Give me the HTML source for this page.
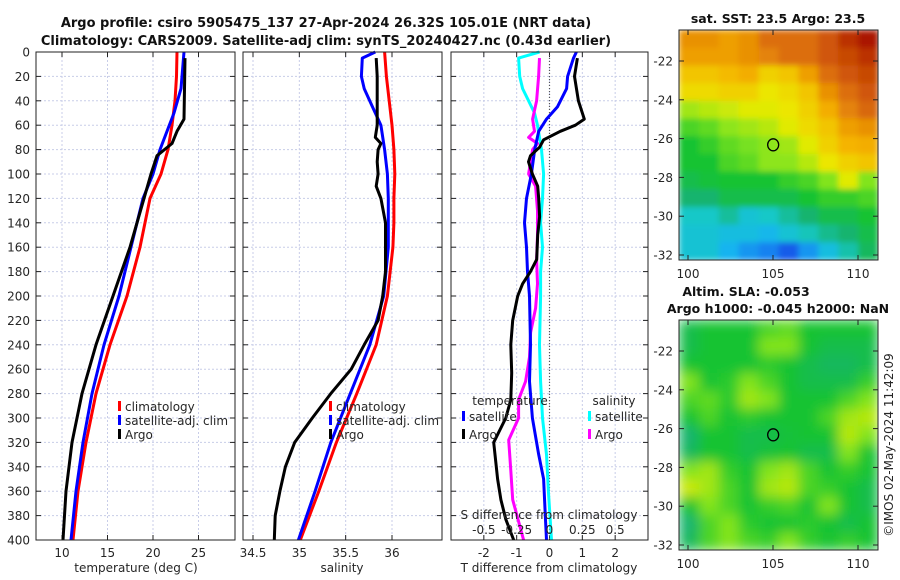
<!DOCTYPE html>
<html><head><meta charset="utf-8"><style>
html,body{margin:0;padding:0;background:#fff}
svg{display:block;font-family:"DejaVu Sans","Liberation Sans",sans-serif}
</style></head><body>
<svg id="fig" width="900" height="580" viewBox="0 0 900 580">
<rect width="900" height="580" fill="#fff"/>
<text x="326" y="27" text-anchor="middle" font-size="13" font-weight="bold" fill="#111">Argo profile: csiro 5905475_137 27-Apr-2024 26.32S 105.01E (NRT data)</text>
<text x="326" y="45" text-anchor="middle" font-size="13" font-weight="bold" fill="#111">Climatology: CARS2009. Satellite-adj clim: synTS_20240427.nc (0.43d earlier)</text>
<text x="778" y="23" text-anchor="middle" font-size="12.5" font-weight="bold" fill="#111">sat. SST: 23.5 Argo: 23.5</text>
<text x="746" y="296" text-anchor="middle" font-size="12.5" font-weight="bold" fill="#111">Altim. SLA: -0.053</text>
<text x="778" y="313" text-anchor="middle" font-size="12.5" font-weight="bold" fill="#111">Argo h1000: -0.045 h2000: NaN</text>
<text transform="translate(893,445) rotate(-90)" text-anchor="middle" font-size="12" fill="#262626">©IMOS 02-May-2024 11:42:09</text>
<defs>
<filter id="blr" x="-5%" y="-5%" width="110%" height="110%"><feGaussianBlur stdDeviation="6" edgeMode="duplicate"/></filter>
<filter id="blr2" x="0" y="0" width="100%" height="100%"><feGaussianBlur stdDeviation="3" edgeMode="duplicate"/></filter>
<clipPath id="c1"><rect x="679" y="30" width="199" height="230"/></clipPath>
<clipPath id="c2"><rect x="679" y="320" width="199" height="230"/></clipPath>
</defs>
<g id="layer"></g>
</svg>
<script>
// ---------- data ----------
const depthTicks = [0,20,40,60,80,100,120,140,160,180,200,220,240,260,280,300,320,340,360,380,400];
const tempTicks = [10,15,20,25];
const salTicks = [34.5,35,35.5,36];
const tdiffTicks = [-2,-1,0,1,2];
const sdiffTicks = [-0.5,-0.25,0,0.25,0.5];
const latTicks = [-22,-24,-26,-28,-30,-32];
const lonTicks = [100,105,110];

const climTDepth = [0,20,40,60,80,100,120,160,200,240,280,320,360,400];
const climTValues = [22.64,22.58,22.42,22.09,21.65,20.88,19.67,18.57,17.14,15.27,13.74,12.64,11.76,11.21];
const satTDepth = [0,10,30,50,80,100,120,160,200,240,280,320,360,400];
const satTValues = [23.41,23.30,23.08,22.31,20.77,20.0,18.9,17.58,16.26,14.62,13.30,12.31,11.54,10.99];
const argoTDepth = [5,55,65,75,85,100,120,160,200,240,280,320,360,400];
const argoTValues = [23.52,23.41,22.64,22.09,20.44,19.78,19.01,17.47,15.60,13.74,12.20,11.10,10.44,10.11];

const climSDepth = [0,20,40,60,80,100,120,140,160,200,240,280,320,360,400];
const climSValues = [35.92,35.94,35.97,36.0,36.02,36.03,36.02,36.02,36.01,35.95,35.83,35.62,35.40,35.21,35.01];
const satSDepth = [0,5,20,30,45,60,80,100,120,160,200,240,280,320,360,400];
const satSValues = [35.82,35.68,35.67,35.70,35.79,35.88,35.92,35.95,35.96,35.96,35.91,35.76,35.55,35.34,35.17,34.99];
const argoSDepth = [5,20,40,60,70,75,80,90,100,110,120,140,160,180,200,220,240,260,280,300,320,340,360,380,400];
const argoSValues = [35.83,35.84,35.84,35.84,35.82,35.88,35.85,35.84,35.85,35.83,35.88,35.93,35.93,35.93,35.90,35.85,35.70,35.56,35.34,35.14,34.95,34.85,34.79,34.74,34.73];

const dSatTDepth = [0,5,20,30,45,55,65,80,100,120,140,160,180,200,240,270,300,330,350,385,400];
const dSatTValues = [0.82,0.73,0.55,0.52,0.24,-0.09,-0.33,-0.45,-0.55,-0.70,-0.76,-0.70,-0.67,-0.61,-0.58,-0.61,-0.52,-0.33,-0.18,-0.12,-0.09];
const dArgoTDepth = [5,20,40,55,60,65,72,78,85,90,100,110,120,135,150,170,180,190,200,220,240,263,285,300,320,350,367,383,400];
const dArgoTValues = [0.85,0.76,0.88,1.06,0.79,0.33,-0.18,-0.30,-0.58,-0.64,-0.52,-0.36,-0.33,-0.30,-0.36,-0.39,-0.58,-0.82,-0.97,-1.12,-1.18,-1.15,-1.18,-1.33,-1.70,-1.58,-1.48,-1.33,-1.09];
const dSatSDepth = [0,5,20,30,40,50,60,80,100,120,140,160,180,200,240,270,300,330,360,400];
const dSatSValues = [-0.076,-0.235,-0.227,-0.205,-0.159,-0.114,-0.091,-0.061,-0.045,-0.053,-0.068,-0.053,-0.068,-0.068,-0.076,-0.068,-0.053,-0.023,-0.008,0.015];
const dArgoSDepth = [5,20,40,55,65,70,75,80,90,100,110,130,150,170,190,210,230,250,270,285,300,318,343,367,400];
const dArgoSValues = [-0.076,-0.083,-0.098,-0.129,-0.114,-0.159,-0.091,-0.129,-0.144,-0.159,-0.106,-0.091,-0.091,-0.098,-0.091,-0.106,-0.144,-0.152,-0.182,-0.235,-0.235,-0.311,-0.295,-0.280,-0.197];

const sstGrid = [
[0.80,0.80,0.78,0.80,0.85,0.85,0.85,0.88,0.93,0.97],
[0.78,0.78,0.78,0.80,0.82,0.85,0.85,0.88,0.90,0.93],
[0.72,0.72,0.74,0.76,0.70,0.72,0.78,0.85,0.88,0.90],
[0.68,0.68,0.70,0.70,0.66,0.68,0.72,0.80,0.85,0.88],
[0.58,0.60,0.62,0.64,0.64,0.66,0.70,0.76,0.82,0.86],
[0.50,0.52,0.56,0.58,0.60,0.64,0.68,0.72,0.78,0.80],
[0.45,0.48,0.52,0.54,0.56,0.58,0.64,0.70,0.75,0.76],
[0.45,0.45,0.50,0.52,0.56,0.56,0.60,0.66,0.70,0.72],
[0.42,0.44,0.45,0.45,0.45,0.48,0.50,0.55,0.64,0.55],
[0.38,0.38,0.42,0.42,0.42,0.42,0.45,0.48,0.48,0.50],
[0.32,0.32,0.35,0.30,0.32,0.35,0.38,0.42,0.42,0.45],
[0.30,0.30,0.28,0.28,0.26,0.30,0.33,0.36,0.38,0.42],
[0.30,0.30,0.25,0.22,0.20,0.15,0.22,0.28,0.34,0.40]];
const slaGrid = [
[0.42,0.45,0.45,0.45,0.50,0.52,0.45,0.45,0.45,0.45],
[0.42,0.45,0.45,0.45,0.55,0.55,0.45,0.42,0.42,0.42],
[0.45,0.45,0.45,0.45,0.47,0.45,0.42,0.40,0.40,0.42],
[0.55,0.45,0.47,0.55,0.50,0.45,0.42,0.42,0.42,0.48],
[0.50,0.52,0.47,0.58,0.55,0.45,0.45,0.45,0.50,0.55],
[0.45,0.50,0.45,0.47,0.45,0.45,0.45,0.50,0.58,0.60],
[0.38,0.45,0.45,0.42,0.42,0.44,0.45,0.45,0.60,0.55],
[0.40,0.45,0.45,0.42,0.44,0.45,0.42,0.42,0.55,0.45],
[0.55,0.58,0.48,0.45,0.55,0.58,0.50,0.45,0.48,0.45],
[0.62,0.58,0.50,0.45,0.58,0.60,0.50,0.48,0.45,0.42],
[0.45,0.55,0.50,0.45,0.48,0.50,0.45,0.55,0.45,0.42],
[0.38,0.50,0.55,0.47,0.45,0.45,0.47,0.45,0.42,0.45],
[0.40,0.50,0.55,0.50,0.48,0.55,0.48,0.45,0.48,0.45]];
const argoLon = 105.01, argoLat = -26.32;

// ---------- helpers ----------
const NS="http://www.w3.org/2000/svg";
const root=document.getElementById('layer');
function mk(tag,attrs,parent){const e=document.createElementNS(NS,tag);for(const k in attrs)e.setAttribute(k,attrs[k]);(parent||root).appendChild(e);return e;}
const TOP=52, BOT=540;
const yD = d => TOP + d*(BOT-TOP)/400;
function scale(d0,d1,r0,r1){return v=>r0+(v-d0)*(r1-r0)/(d1-d0);}
const xT = scale(10,25,62,198.5);
const xS = scale(34.5,36,253,392);
const xTd = scale(-3,3,451,648);
const xSd = scale(-0.75,0.75,451,648);
const FS=12;

function panel(x0,x1,xf,ticks,fmt,showY,name){
  const g=mk('g',{});
  
  
  depthTicks.forEach(d=>{mk('line',{x1:x0,x2:x1,y1:yD(d),y2:yD(d),stroke:'#c8cde8','stroke-width':1,'stroke-dasharray':'2,2'},g);});
  ticks.forEach(t=>{mk('line',{x1:xf(t),x2:xf(t),y1:TOP,y2:BOT,stroke:'#c8cde8','stroke-width':1,'stroke-dasharray':'2,2'},g);
    mk('line',{x1:xf(t),x2:xf(t),y1:BOT,y2:BOT-5,stroke:'#222'},g);mk('line',{x1:xf(t),x2:xf(t),y1:TOP,y2:TOP+5,stroke:'#222'},g);
    const tx=mk('text',{x:xf(t),y:BOT+17,'text-anchor':'middle','font-size':FS,fill:'#262626'},g);tx.textContent=fmt(t);
    
    });
  depthTicks.forEach(d=>{mk('line',{x1:x0,x2:x0+5,y1:yD(d),y2:yD(d),stroke:'#222'},g);mk('line',{x1:x1,x2:x1-5,y1:yD(d),y2:yD(d),stroke:'#222'},g);
    if(showY){const tx=mk('text',{x:x0-6,y:yD(d)+4.5,'text-anchor':'end','font-size':FS,fill:'#262626'},g);tx.textContent=d;
      
      }});
  return g;
}
function frame(x0,x1,g){mk('rect',{x:x0,y:TOP,width:x1-x0,height:BOT-TOP,fill:'none',stroke:'#222','stroke-width':1},g);}
function line(depths,vals,xf,color,name,g){
  const pts=depths.map((d,i)=>xf(vals[i]).toFixed(1)+','+yD(d).toFixed(1)).join(' ');
  const p=mk('polyline',{points:pts,fill:'none',stroke:color,'stroke-width':3,'stroke-linejoin':'round'},g);
  
  
}
function legendEntry(x,y,color,label,g){
  mk('rect',{x:x,y:y-9,width:3,height:10,fill:color},g);
  const t=mk('text',{x:x+7,y:y+1,'font-size':FS,fill:'#262626'},g);t.textContent=label;
  
  
}
function label(x,y,txt,name,size){const t=mk('text',{x:x,y:y,'text-anchor':'middle','font-size':size||FS,fill:'#262626'});t.textContent=txt;
  
  }

// panel 1
let g1=panel(36,235,xT,tempTicks,v=>v,true,'temperature-panel');
line(climTDepth,climTValues,xT,'#ff0000','clim-temp-line',g1);
line(satTDepth,satTValues,xT,'#0000ff','sat-temp-line',g1);
line(argoTDepth,argoTValues,xT,'#000000','argo-temp-line',g1);
frame(36,235,g1);
legendEntry(118,410,'#ff0000','climatology',g1);
legendEntry(118,424,'#0000ff','satellite-adj. clim',g1);
legendEntry(118,438,'#000000','Argo',g1);
label(136,572,'temperature (deg C)','temperature-axis-title');

// panel 2
let g2=panel(243,442,xS,salTicks,v=>v,false,'salinity-panel');
line(climSDepth,climSValues,xS,'#ff0000','clim-salinity-line',g2);
line(satSDepth,satSValues,xS,'#0000ff','sat-salinity-line',g2);
line(argoSDepth,argoSValues,xS,'#000000','argo-salinity-line',g2);
frame(243,442,g2);
legendEntry(329,410,'#ff0000','climatology',g2);
legendEntry(329,424,'#0000ff','satellite-adj. clim',g2);
legendEntry(329,438,'#000000','Argo',g2);
label(342,572,'salinity','salinity-axis-title');

// panel 3
let g3=panel(451,648,xTd,tdiffTicks,v=>v,false,'difference-panel');
mk('line',{x1:xTd(0),x2:xTd(0),y1:TOP,y2:BOT,stroke:'#555','stroke-width':1.2,'stroke-dasharray':'1,2'},g3);
line(dSatSDepth,dSatSValues,xSd,'#00ffff','sat-sdiff-line',g3);
line(dArgoSDepth,dArgoSValues,xSd,'#ff00ff','argo-sdiff-line',g3);
line(dSatTDepth,dSatTValues,xTd,'#0000ff','sat-tdiff-line',g3);
line(dArgoTDepth,dArgoTValues,xTd,'#000000','argo-tdiff-line',g3);
frame(451,648,g3);
label(510,405,'temperature','legend-temp-header');
legendEntry(462,420,'#0000ff','satellite',g3);
legendEntry(462,438,'#000000','Argo',g3);
label(614,405,'salinity','legend-sal-header');
legendEntry(588,420,'#00ffff','satellite',g3);
legendEntry(588,438,'#ff00ff','Argo',g3);
label(549,519,'S difference from climatology','sdiff-axis-title');
sdiffTicks.forEach(t=>{const tx=mk('text',{x:xSd(t),y:534,'text-anchor':'middle','font-size':FS,fill:'#262626'});tx.textContent=String(t);
  
  });
label(549,572,'T difference from climatology','tdiff-axis-title');

// maps
const stops=[[0.10,[20,60,220]],[0.18,[20,110,240]],[0.25,[20,180,240]],[0.32,[20,200,200]],[0.38,[20,180,110]],[0.45,[20,195,50]],[0.55,[130,228,30]],[0.65,[235,235,0]],[0.75,[245,180,0]],[0.85,[220,110,10]],[0.97,[170,20,0]]];
function cmap(v){if(v<=stops[0][0])return 'rgb('+stops[0][1]+')';
  for(let i=1;i<stops.length;i++){if(v<=stops[i][0]){const a=stops[i-1],b=stops[i],f=(v-a[0])/(b[0]-a[0]);
    return 'rgb('+a[1].map((c,k)=>Math.round(c+(b[1][k]-c)*f)).join(',')+')';}}
  return 'rgb('+stops[stops.length-1][1]+')';}
const xLon = scale(100,110,688,858);
function drawMap(grid,y0,name,clip,filt){
  const yLat = scale(-22,-32,y0+31,y0+225);
  const g=mk('g',{});
  
  
  const inner=mk('g',{'clip-path':'url(#'+clip+')'},g);
  const fg=mk('g',{filter:'url(#'+filt+')'},inner);
  const rows=grid.length, cols=grid[0].length, cw=199/cols, ch=230/rows;
  grid.forEach((row,r)=>row.forEach((v,c)=>{const cell=mk('rect',{x:679+c*cw,y:y0+r*ch,width:cw+0.6,height:ch+0.6,fill:cmap(v)},fg);
    
    }));
  mk('rect',{x:679,y:y0,width:199,height:230,fill:'none',stroke:'#222'},g);
  latTicks.forEach(t=>{const y=yLat(t);mk('line',{x1:679,x2:684,y1:y,y2:y,stroke:'#222'},g);mk('line',{x1:878,x2:873,y1:y,y2:y,stroke:'#222'},g);
    const tx=mk('text',{x:673,y:y+4.5,'text-anchor':'end','font-size':FS,fill:'#262626'},g);tx.textContent=t;
    
    });
  lonTicks.forEach(t=>{const x=xLon(t);mk('line',{x1:x,x2:x,y1:y0+230,y2:y0+225,stroke:'#222'},g);mk('line',{x1:x,x2:x,y1:y0,y2:y0+5,stroke:'#222'},g);
    const tx=mk('text',{x:x,y:y0+248,'text-anchor':'middle','font-size':FS,fill:'#262626'},g);tx.textContent=t;
    
    });
  const m=mk('ellipse',{cx:xLon(argoLon),cy:yLat(argoLat),rx:5.5,ry:6,fill:'none',stroke:'#000','stroke-width':1.3},g);
  
  
}
drawMap(sstGrid,30,'sst-map','c1','blr2');
drawMap(slaGrid,320,'sla-map','c2','blr');
</script>
</body></html>
